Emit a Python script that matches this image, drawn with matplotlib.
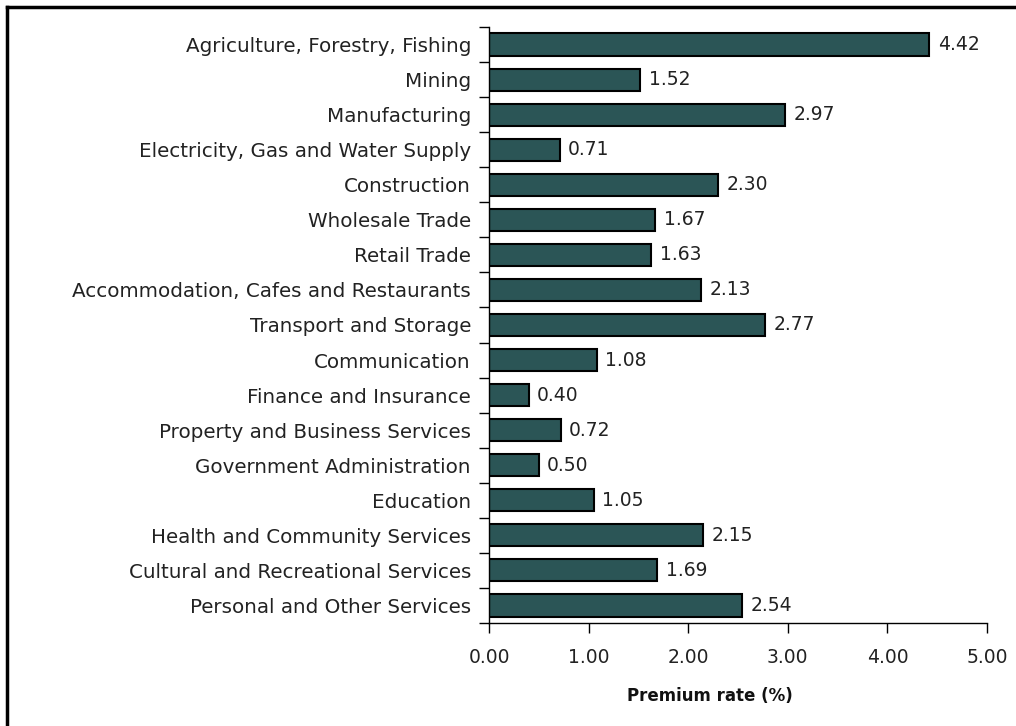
import matplotlib
matplotlib.use("Agg")
import matplotlib.pyplot as plt
from matplotlib.lines import Line2D

categories = [
    "Agriculture, Forestry, Fishing",
    "Mining",
    "Manufacturing",
    "Electricity, Gas and Water Supply",
    "Construction",
    "Wholesale Trade",
    "Retail Trade",
    "Accommodation, Cafes and Restaurants",
    "Transport and Storage",
    "Communication",
    "Finance and Insurance",
    "Property and Business Services",
    "Government Administration",
    "Education",
    "Health and Community Services",
    "Cultural and Recreational Services",
    "Personal and Other Services",
]
values = [4.42, 1.52, 2.97, 0.71, 2.30, 1.67, 1.63, 2.13, 2.77, 1.08,
          0.40, 0.72, 0.50, 1.05, 2.15, 1.69, 2.54]
xticks = [0, 1, 2, 3, 4, 5]
xlabel = "Premium rate (%)"

plt.rcParams['font.family'] = ['DejaVu Sans']

fig = plt.figure(figsize=(10.16, 7.26), dpi=100)
ax = fig.add_axes([489/1016, 1 - 623/726, (987-489)/1016, (623-27)/726])

n = len(categories)
pos = list(range(n))
ax.barh(pos, values, height=0.63, color="#2B5556", edgecolor="black", linewidth=1.5)
ax.set_ylim(n - 0.5, -0.5)
ax.set_xlim(0, 5)
ax.set_yticks(pos)
ax.set_yticklabels(categories, fontsize=14.3, color="#222222")
ax.set_yticks([p - 0.5 for p in range(n + 1)], minor=True)
ax.tick_params(axis='y', which='major', length=0, pad=13)
ax.tick_params(axis='y', which='minor', length=7, width=1, direction='out')
ax.set_xticks(xticks)
ax.set_xticklabels([f"{v:.2f}" for v in xticks], fontsize=13.5, color="#222222")
ax.tick_params(axis='x', length=7, width=1, direction='out', pad=11)
ax.set_xlabel(xlabel, fontsize=12, fontweight='bold', color="#111111")
ax.xaxis.set_label_coords((710 - 489) / 498, (623 - 687) / 596)
for s in ['top', 'right']:
    ax.spines[s].set_visible(False)
for s in ['left', 'bottom']:
    ax.spines[s].set_linewidth(1)

for p, v in zip(pos, values):
    ax.annotate(f"{v:.2f}", xy=(v, p), xytext=(6, 0), textcoords='offset points',
                va='center', ha='left', fontsize=13.5, color="#222222")

# outer frame (left and top edges)
fig.add_artist(Line2D([6.5/1016, 6.5/1016], [0, 1 - 7/726], transform=fig.transFigure, color='black', lw=2.5))
fig.add_artist(Line2D([6.5/1016, 1], [1 - 7/726, 1 - 7/726], transform=fig.transFigure, color='black', lw=2.5))

fig.savefig("out.png", dpi=100)
